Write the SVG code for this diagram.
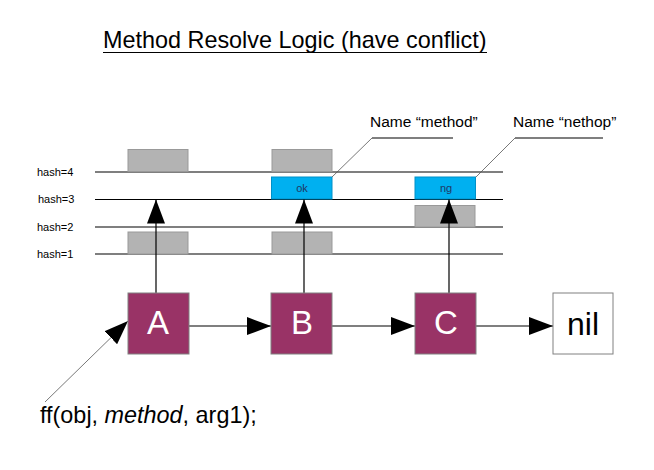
<svg xmlns="http://www.w3.org/2000/svg" width="654" height="470" viewBox="0 0 654 470">
<style>
text{font-family:"Liberation Sans",Arial,sans-serif}
.hl{stroke:#000;stroke-width:1.2}
.gray{fill:#b3b3b3;stroke:#999;stroke-width:1}
.blue{fill:#00b0f0;stroke:#0090c8;stroke-width:1}
.node{fill:#993366;stroke:#808080;stroke-width:1}
.nl{fill:#fff;font-size:33px;text-anchor:middle}
.hash{font-size:11px}
.small{font-size:11px;fill:#1f3864;text-anchor:middle}
.conn{stroke:#000;stroke-width:1.2;fill:none}
.lead{stroke:#555;stroke-width:0.8;fill:none}
.lab{font-size:15.5px}
</style>
<defs>
<marker id="ah" viewBox="0 0 24 18" refX="24" refY="9" markerWidth="24" markerHeight="18" markerUnits="userSpaceOnUse" orient="auto">
<path d="M0,0 L24,9 L0,18 Z" fill="#000"/>
</marker>
</defs>
<rect width="654" height="470" fill="#fff"/>
<g id="title">
<text x="103" y="48" font-size="23.4px">Method Resolve Logic (have conflict)</text>
<line x1="103" y1="52.5" x2="487" y2="52.5" stroke="#000" stroke-width="1.2"/>
</g>
<g id="hash-lines">
<text class="hash" x="37" y="176">hash=4</text>
<text class="hash" x="38" y="203">hash=3</text>
<text class="hash" x="37" y="231">hash=2</text>
<text class="hash" x="37" y="258">hash=1</text>
<line class="hl" x1="95" y1="172" x2="503" y2="172"/>
<line class="hl" x1="95" y1="199.5" x2="503" y2="199.5"/>
<line class="hl" x1="95" y1="227" x2="503" y2="227"/>
<line class="hl" x1="95" y1="254" x2="503" y2="254"/>
</g>
<g id="slots">
<rect class="gray" x="128" y="149.5" width="60" height="22"/>
<rect class="gray" x="128" y="232" width="60" height="22"/>
<rect class="gray" x="272" y="149.5" width="60" height="22"/>
<rect class="gray" x="272" y="232" width="60" height="22"/>
<rect class="gray" x="415" y="205.5" width="60" height="21.5"/>
<g id="slot-ok">
<rect class="blue" x="271.5" y="177" width="60.5" height="22"/>
<text class="small" x="302" y="192">ok</text>
</g>
<g id="slot-ng">
<rect class="blue" x="415" y="177" width="60.5" height="22"/>
<text class="small" x="446" y="192">ng</text>
</g>
</g>
<g id="labels">
<text class="lab" x="370" y="127">Name “method”</text>
<text class="lab" x="513" y="127">Name “nethop”</text>
</g>
<g id="connectors">
<line class="conn" x1="156" y1="293" x2="156" y2="199.5" marker-end="url(#ah)"/>
<line class="conn" x1="304" y1="293" x2="304" y2="199.5" marker-end="url(#ah)"/>
<line class="conn" x1="449" y1="293" x2="449" y2="199.5" marker-end="url(#ah)"/>
<line class="conn" x1="189" y1="326" x2="271" y2="326" marker-end="url(#ah)"/>
<line class="conn" x1="332" y1="326" x2="415" y2="326" marker-end="url(#ah)"/>
<line class="conn" x1="476" y1="326" x2="553" y2="326" marker-end="url(#ah)"/>
<line class="lead" x1="45" y1="402" x2="128" y2="321" marker-end="url(#ah)"/>
<polyline class="lead" points="332,177 372,138"/>
<line class="conn" x1="372" y1="138" x2="453" y2="138"/>
<polyline class="lead" points="476,177 515,138"/>
<line class="conn" x1="515" y1="138" x2="603" y2="138"/>
</g>
<g id="node-A">
<rect class="node" x="128" y="293" width="61" height="61"/>
<text class="nl" x="158" y="334">A</text>
</g>
<g id="node-B">
<rect class="node" x="271" y="293" width="61" height="61"/>
<text class="nl" x="302" y="334">B</text>
</g>
<g id="node-C">
<rect class="node" x="415" y="293" width="61" height="61"/>
<text class="nl" x="446" y="334">C</text>
</g>
<g id="node-nil">
<rect x="553" y="293" width="60" height="61" fill="#fff" stroke="#808080" stroke-width="1"/>
<text x="583" y="335" font-size="32px" text-anchor="middle">nil</text>
</g>
<g id="call">
<text x="40" y="423" font-size="23.4px">ff(obj, <tspan font-style="italic">method</tspan>, arg1);</text>
</g>
</svg>
